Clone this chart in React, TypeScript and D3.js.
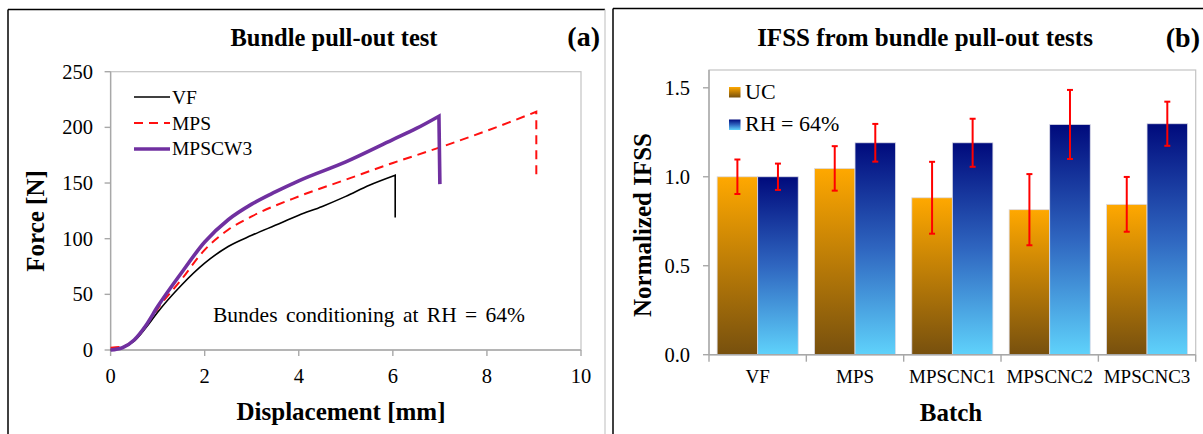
import React from "react";
import * as d3 from "d3";

// Panel (a): bundle pull-out force-displacement curves
const dispVF = [0, 0.25, 0.5, 0.75, 1.0, 1.5, 2.0, 2.5, 3.0, 3.5, 4.0, 4.5, 5.0, 5.5, 6.05];
const forceVF = [0, 2, 8, 20, 34, 58, 78, 93, 103, 112, 121, 129, 138, 148, 157];
const dropVF = [6.05, 119];

const dispMPS = [0, 0.25, 0.5, 0.75, 1.0, 1.5, 2.0, 2.5, 3.0, 4.0, 5.0, 6.0, 7.0, 8.0, 9.05];
const forceMPS = [2, 3, 9, 21, 37, 63, 90, 108, 120, 138, 153, 168, 182, 197, 214];
const dropMPS = [9.05, 154];

const dispCW3 = [0, 0.25, 0.5, 0.75, 1.0, 1.5, 2.0, 2.5, 3.0, 3.5, 4.0, 5.0, 6.0, 6.5, 6.98];
const forceCW3 = [0, 2, 9, 22, 39, 69, 97, 117, 131, 142, 152, 169, 189, 199, 210];
const dropCW3 = [7.0, 149];

const xTicksA = [0, 2, 4, 6, 8, 10];
const yTicksA = [0, 50, 100, 150, 200, 250];

// Panel (b): normalized IFSS
const batches = ["VF", "MPS", "MPSCNC1", "MPSCNC2", "MPSCNC3"];
const ifssUC = [1.0, 1.047, 0.882, 0.815, 0.845];
const errUC = [0.097, 0.125, 0.202, 0.2, 0.154];
const ifssRH = [1.0, 1.191, 1.191, 1.294, 1.298];
const errRH = [0.074, 0.106, 0.135, 0.194, 0.124];
const yTicksB = [0, 0.5, 1.0, 1.5];

const serif = "'Liberation Serif', 'Times New Roman', serif";

export default function App() {
  // scales for (a)
  const xA = d3.scaleLinear().domain([0, 10]).range([110.6, 581]);
  const yA = d3.scaleLinear().domain([0, 250]).range([350, 71.7]);
  const line = d3
    .line<[number, number]>()
    .x((d) => xA(d[0]))
    .y((d) => yA(d[1]))
    .curve(d3.curveMonotoneX);

  const curve = (xs: number[], ys: number[], drop: number[]) =>
    line(xs.map((x, i) => [x, ys[i]] as [number, number])) +
    `L${xA(drop[0])},${yA(drop[1])}`;

  // scales for (b)
  const xB = d3.scaleBand().domain(batches).range([709, 1195.7]);
  const sub = d3
    .scaleBand()
    .domain(["UC", "RH"])
    .range([0, xB.bandwidth()])
    .paddingOuter(0.2);
  const yB = d3.scaleLinear().domain([0, 1.6]).range([354.7, 70]);

  const series = [
    { key: "UC", vals: ifssUC, errs: errUC, fill: "url(#gUC)" },
    { key: "RH", vals: ifssRH, errs: errRH, fill: "url(#gRH)" },
  ];

  const boundaries = [...batches.map((b) => xB(b) as number), 1195.7];

  return (
    <svg
      width={1203}
      height={434}
      style={{ position: "absolute", left: 0, top: 0, background: "#fff" }}
      fontFamily={serif}
    >
      <defs>
        <linearGradient id="gUC" x1="0" y1="0" x2="0" y2="1">
          <stop offset="0" stopColor="#FFA800" />
          <stop offset="1" stopColor="#77500E" />
        </linearGradient>
        <linearGradient id="gRH" x1="0" y1="0" x2="0" y2="1">
          <stop offset="0" stopColor="#000A7C" />
          <stop offset="0.5" stopColor="#2F66C0" />
          <stop offset="1" stopColor="#5FD2FB" />
        </linearGradient>
      </defs>

      {/* panel frames */}
      <line x1={8} y1={9.5} x2={605} y2={9.5} stroke="#000" strokeWidth={1.5} />
      <line x1={8} y1={9.5} x2={8} y2={434} stroke="#000" strokeWidth={1.5} />
      <line x1={605} y1={9.5} x2={605} y2={434} stroke="#c8c8c8" strokeWidth={1.2} />
      <line x1={613} y1={8.5} x2={1203} y2={8.5} stroke="#000" strokeWidth={1.5} />
      <line x1={613} y1={8.5} x2={613} y2={434} stroke="#000" strokeWidth={1.5} />

      {/* ---------- panel (a) ---------- */}
      <text x={334} y={46} textAnchor="middle" fontWeight="bold" fontSize={24.5}>
        Bundle pull-out test
      </text>
      <text x={600} y={46} textAnchor="end" fontWeight="bold" fontSize={28}>
        (a)
      </text>

      <rect
        x={xA(0)}
        y={yA(250)}
        width={xA(10) - xA(0)}
        height={yA(0) - yA(250)}
        fill="none"
        stroke="#c4c4c4"
        strokeWidth={1.2}
      />
      <line x1={xA(0)} y1={yA(0)} x2={xA(10)} y2={yA(0)} stroke="#a8a8a8" strokeWidth={1.4} />
      <line x1={xA(0)} y1={yA(0)} x2={xA(0)} y2={yA(250)} stroke="#a8a8a8" strokeWidth={1.4} />
      {yTicksA.map((t) => (
        <g key={t}>
          <line x1={xA(0) - 6} x2={xA(0)} y1={yA(t)} y2={yA(t)} stroke="#a8a8a8" strokeWidth={1.4} />
          <text x={93} y={yA(t) + 7} textAnchor="end" fontSize={20.5}>
            {t}
          </text>
        </g>
      ))}
      {xTicksA.map((t) => (
        <g key={t}>
          <line x1={xA(t)} x2={xA(t)} y1={yA(0)} y2={yA(0) + 6} stroke="#a8a8a8" strokeWidth={1.4} />
          <text x={xA(t)} y={383} textAnchor="middle" fontSize={20.5}>
            {t}
          </text>
        </g>
      ))}
      <text x={341} y={420} textAnchor="middle" fontWeight="bold" fontSize={25}>
        Displacement [mm]
      </text>
      <text
        transform="translate(44,221) rotate(-90)"
        textAnchor="middle"
        fontWeight="bold"
        fontSize={25}
      >
        Force [N]
      </text>

      <path d={curve(dispMPS, forceMPS, dropMPS)} fill="none" stroke="#FF1010" strokeWidth={2} strokeDasharray="9,6" />
      <path d={curve(dispVF, forceVF, dropVF)} fill="none" stroke="#000" strokeWidth={1.6} />
      <path d={curve(dispCW3, forceCW3, dropCW3)} fill="none" stroke="#7030A0" strokeWidth={3.6} />

      {/* legend (a) */}
      <line x1={134} x2={170} y1={97} y2={97} stroke="#000" strokeWidth={1.6} />
      <line x1={134} x2={170} y1={123} y2={123} stroke="#FF1010" strokeWidth={2} strokeDasharray="9,6" />
      <line x1={134} x2={170} y1={149} y2={149} stroke="#7030A0" strokeWidth={3.6} />
      <text x={172} y={104} fontSize={19.5}>VF</text>
      <text x={172} y={130} fontSize={19.5}>MPS</text>
      <text x={172} y={155} fontSize={19.5}>MPSCW3</text>

      <text x={213} y={322} fontSize={21.5} wordSpacing={3}>
        Bundes conditioning at RH = 64%
      </text>

      {/* ---------- panel (b) ---------- */}
      <text x={925} y={46} textAnchor="middle" fontWeight="bold" fontSize={25}>
        IFSS from bundle pull-out tests
      </text>
      <text x={1200} y={47} textAnchor="end" fontWeight="bold" fontSize={28}>
        (b)
      </text>

      <rect
        x={709}
        y={yB(1.6)}
        width={1195.7 - 709}
        height={yB(0) - yB(1.6)}
        fill="none"
        stroke="#c4c4c4"
        strokeWidth={1.2}
      />

      {series.map((s) =>
        batches.map((b, i) => {
          const x0 = (xB(b) as number) + (sub(s.key) as number);
          return (
            <rect
              key={s.key + b}
              x={x0}
              y={yB(s.vals[i])}
              width={sub.bandwidth()}
              height={yB(0) - yB(s.vals[i])}
              fill={s.fill}
              stroke="#dcdce8"
              strokeWidth={0.8}
            />
          );
        })
      )}

      <line x1={709} y1={yB(0)} x2={1195.7} y2={yB(0)} stroke="#a8a8a8" strokeWidth={1.4} />
      <line x1={709} y1={yB(0)} x2={709} y2={yB(1.6)} stroke="#a8a8a8" strokeWidth={1.4} />
      {yTicksB.map((t) => (
        <g key={t}>
          <line x1={703} x2={709} y1={yB(t)} y2={yB(t)} stroke="#a8a8a8" strokeWidth={1.4} />
          <text x={690} y={yB(t) + 7} textAnchor="end" fontSize={20.5}>
            {t.toFixed(1)}
          </text>
        </g>
      ))}
      {boundaries.map((bx, i) => (
        <line key={i} x1={bx} x2={bx} y1={yB(0)} y2={yB(0) + 7} stroke="#a8a8a8" strokeWidth={1.4} />
      ))}
      {batches.map((b) => (
        <text
          key={b}
          x={(xB(b) as number) + xB.bandwidth() / 2}
          y={383}
          textAnchor="middle"
          fontSize={19}
        >
          {b}
        </text>
      ))}

      {/* error bars */}
      {series.map((s) =>
        batches.map((b, i) => {
          const cx = (xB(b) as number) + (sub(s.key) as number) + sub.bandwidth() / 2;
          const hi = yB(s.vals[i] + s.errs[i]);
          const lo = yB(s.vals[i] - s.errs[i]);
          return (
            <g key={"e" + s.key + b} stroke="#FF0000" strokeWidth={2}>
              <line x1={cx} x2={cx} y1={hi} y2={lo} />
              <line x1={cx - 3} x2={cx + 3} y1={hi} y2={hi} />
              <line x1={cx - 3} x2={cx + 3} y1={lo} y2={lo} />
            </g>
          );
        })
      )}

      <text x={951} y={421} textAnchor="middle" fontWeight="bold" fontSize={25}>
        Batch
      </text>
      <text
        transform="translate(651,225) rotate(-90)"
        textAnchor="middle"
        fontWeight="bold"
        fontSize={25}
      >
        Normalized IFSS
      </text>

      {/* legend (b) */}
      <rect x={729} y={87} width={11.5} height={10.5} fill="url(#gUC)" />
      <rect x={729} y={119.5} width={11.5} height={10.5} fill="url(#gRH)" />
      <text x={745} y={98.5} fontSize={22}>UC</text>
      <text x={745} y={131} fontSize={22}>RH = 64%</text>
    </svg>
  );
}
